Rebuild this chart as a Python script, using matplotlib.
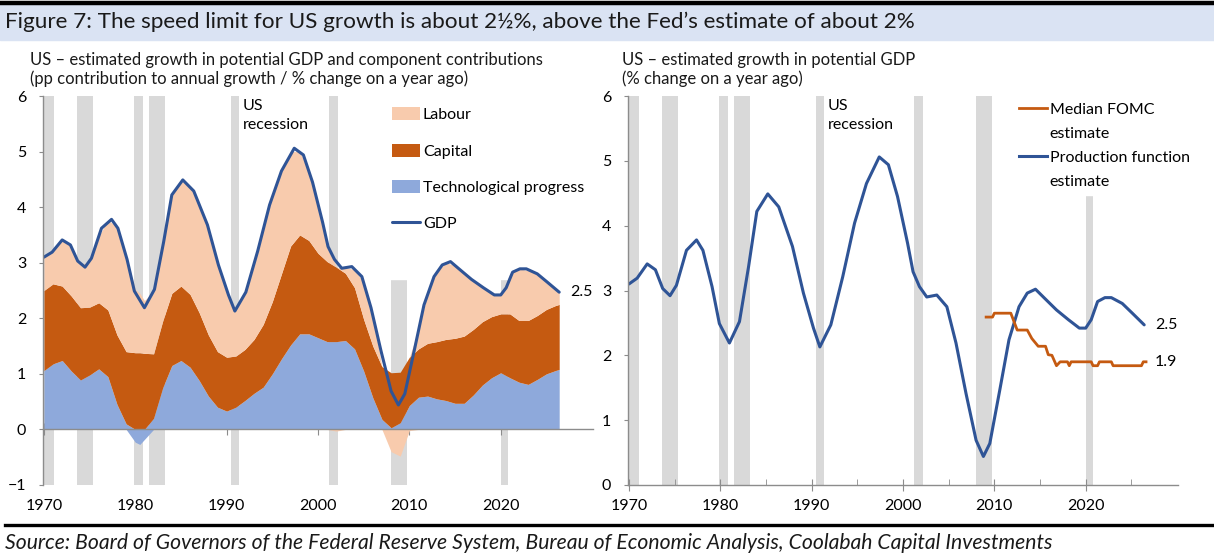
import numpy as np
import matplotlib.pyplot as plt
from matplotlib import font_manager
from matplotlib.lines import Line2D
from matplotlib.patches import Rectangle

# --- data ---
comp_years = [1970, 1971, 1972, 1973, 1974, 1975, 1976, 1977, 1978, 1979,
              1980, 1980.5, 1981, 1982, 1983, 1984, 1985, 1986, 1987, 1988,
              1989, 1990, 1991, 1992, 1993, 1994, 1995, 1996, 1997, 1998,
              1999, 2000, 2001, 2002, 2003, 2004, 2005, 2006, 2007, 2008,
              2009, 2010, 2011, 2012, 2013, 2014, 2015, 2016, 2017, 2018,
              2019, 2020, 2021, 2022, 2023, 2024, 2025, 2026, 2026.4]
tech = [1.06, 1.18, 1.24, 1.05, 0.89, 0.98, 1.09, 0.95, 0.45, 0.10,
        -0.23, -0.27, -0.18, 0.20, 0.75, 1.15, 1.24, 1.12, 0.88, 0.60,
        0.40, 0.33, 0.40, 0.52, 0.65, 0.76, 1.00, 1.27, 1.52, 1.72,
        1.72, 1.65, 1.58, 1.58, 1.60, 1.45, 1.05, 0.57, 0.18, 0.03,
        0.12, 0.43, 0.58, 0.60, 0.55, 0.52, 0.47, 0.47, 0.62, 0.80,
        0.93, 1.02, 0.93, 0.85, 0.81, 0.90, 1.00, 1.06, 1.08]
capital = [1.44, 1.44, 1.34, 1.35, 1.30, 1.22, 1.19, 1.20, 1.25, 1.30,
           1.38, 1.38, 1.37, 1.16, 1.20, 1.30, 1.34, 1.31, 1.22, 1.10,
           1.00, 0.97, 0.92, 0.92, 0.97, 1.13, 1.30, 1.53, 1.78, 1.78,
           1.68, 1.52, 1.44, 1.34, 1.21, 1.10, 0.93, 0.93, 0.95, 0.99,
           0.91, 0.87, 0.87, 0.95, 1.03, 1.10, 1.17, 1.21, 1.18, 1.14,
           1.10, 1.06, 1.15, 1.11, 1.15, 1.15, 1.16, 1.17, 1.17]
labour = [0.60, 0.58, 0.83, 0.90, 0.77, 0.82, 1.20, 1.61, 1.96, 1.72,
          1.14, 1.07, 0.95, 1.12, 1.33, 1.77, 1.89, 1.95, 1.95, 1.92,
          1.62, 1.22, 0.83, 0.99, 1.36, 1.71, 1.90, 1.85, 1.70, 1.50,
          1.25, 0.88, 0.33, -0.03, 0.10, 0.33, 0.67, 0.55, 0.00, -0.40,
          -0.48, -0.02, 0.35, 0.90, 1.27, 1.38, 1.31, 1.12, 0.87, 0.62,
          0.42, 0.34, 0.72, 0.93, 0.90, 0.75, 0.50, 0.30, 0.22]

gdp_years = [1970.0, 1970.9, 1972.0, 1972.9, 1973.7, 1974.5, 1975.2, 1976.3,
             1977.4, 1978.1, 1979.1, 1979.9, 1981.0, 1982.1, 1983.1, 1984.0,
             1985.2, 1986.4, 1987.9, 1989.1, 1990.2, 1990.9, 1992.1, 1993.4,
             1994.7, 1996.0, 1997.4, 1998.4, 1999.4, 2000.5, 2001.1, 2001.8,
             2002.6, 2003.7, 2004.8, 2005.8, 2006.9, 2008.0, 2008.8, 2009.5,
             2010.6, 2011.6, 2012.7, 2013.6, 2014.5, 2015.5, 2016.8, 2018.1,
             2019.3, 2020.0, 2020.6, 2021.3, 2022.1, 2022.8, 2024.0, 2025.1,
             2026.4]
gdp = [3.10, 3.19, 3.41, 3.32, 3.03, 2.92, 3.08, 3.62,
       3.78, 3.62, 3.06, 2.49, 2.19, 2.52, 3.37, 4.22,
       4.49, 4.29, 3.68, 2.96, 2.42, 2.13, 2.47, 3.21,
       4.04, 4.65, 5.06, 4.94, 4.45, 3.73, 3.29, 3.06,
       2.90, 2.93, 2.75, 2.19, 1.41, 0.69, 0.44, 0.64,
       1.47, 2.24, 2.75, 2.96, 3.02, 2.88, 2.70, 2.55,
       2.42, 2.42, 2.55, 2.83, 2.89, 2.89, 2.80, 2.65,
       2.47]

fomc_years = [2009.1, 2009.8, 2010.0, 2011.8, 2012.5, 2013.6, 2014.1, 2014.8,
              2015.6, 2015.9, 2016.3, 2016.8, 2017.2, 2018.0, 2018.2, 2018.4,
              2020.6, 2020.8, 2021.3, 2021.5, 2022.8, 2023.0, 2026.1, 2026.3,
              2026.6]
fomc = [2.59, 2.59, 2.65, 2.65, 2.39, 2.39, 2.26, 2.14,
        2.14, 2.01, 2.00, 1.84, 1.90, 1.90, 1.84, 1.90,
        1.90, 1.84, 1.84, 1.90, 1.90, 1.84, 1.84, 1.90,
        1.90]

recession_start = [1970.0, 1973.6, 1979.9, 1981.45, 1990.5, 2001.25, 2008.0, 2020.0]
recession_end = [1971.1, 1975.35, 1980.85, 1983.2, 1991.4, 2002.2, 2009.75, 2020.75]

title = "Figure 7: The speed limit for US growth is about 2½%, above the Fed’s estimate of about 2%"
left_sub = ["US – estimated growth in potential GDP and component contributions",
            "(pp contribution to annual growth / % change on a year ago)"]
right_sub = ["US – estimated growth in potential GDP", "(% change on a year ago)"]
source = ("Source: Board of Governors of the Federal Reserve System, Bureau of Economic "
          "Analysis, Coolabah Capital Investments")

# colours
c_labour = "#F8CBAD"
c_capital = "#C55A11"
c_tech = "#8EA9DB"
c_gdp = "#2F5496"
c_bar = "#D9D9D9"
c_axis = "#8C8C8C"

# fonts
names = {f.name for f in font_manager.fontManager.ttflist}
narrow = "Liberation Sans Narrow" if "Liberation Sans Narrow" in names else "Lato"
plt.rcParams["font.family"] = ["Lato", "DejaVu Sans"]

W, H = 1214, 558
fig = plt.figure(figsize=(W / 100, H / 100), dpi=100)


def box(x0, y0, x1, y1):
    return [x0 / W, 1 - y1 / H, (x1 - x0) / W, (y1 - y0) / H]


# header / footer decoration
fig.add_artist(Rectangle((0, 1 - 40 / H), 1, 35 / H, transform=fig.transFigure,
                         color="#DAE3F3", zorder=0))
fig.add_artist(Line2D([0, 1], [1 - 2.5 / H] * 2, color="black", lw=3.2))
fig.add_artist(Line2D([5 / W, 1], [1 - 525 / H] * 2, color="black", lw=2.4))
fig.text(5 / W, 1 - 22 / H, title, fontsize=16.2, family=[narrow, "DejaVu Sans"],
         va="center", ha="left", color="#1a1a1a")
for i, line in enumerate(left_sub):
    fig.text(30 / W, 1 - (60 + 19 * i) / H, line, fontsize=12,
             family=[narrow, "DejaVu Sans"], va="center", color="#1a1a1a")
for i, line in enumerate(right_sub):
    fig.text(622 / W, 1 - (60 + 19 * i) / H, line, fontsize=12,
             family=[narrow, "DejaVu Sans"], va="center", color="#1a1a1a")
fig.text(5 / W, 1 - 543 / H, source, fontsize=15.2, style="italic",
         va="center", ha="left", color="#1a1a1a")

ax1 = fig.add_axes(box(43, 96, 593, 485))
ax2 = fig.add_axes(box(628, 96, 1178, 485))


def style(ax, ymin, ymax):
    ax.set_xlim(1969.9, 2030.1)
    ax.set_ylim(ymin, ymax)
    for s in ["top", "right"]:
        ax.spines[s].set_visible(False)
    for s in ["left", "bottom"]:
        ax.spines[s].set_color(c_axis)
        ax.spines[s].set_linewidth(1.0)
        ax.spines[s].set_zorder(4)
    ax.set_yticks(range(ymin, ymax + 1))
    ax.set_xticks(range(1970, 2030, 10))
    ax.set_xticks(range(1975, 2030, 10), minor=True)
    ax.tick_params(axis="y", direction="out", length=3, color=c_axis,
                   labelsize=11.5, pad=9)
    ax.tick_params(axis="x", which="major", direction="inout", length=8,
                   color=c_axis, labelsize=11.5, pad=6)
    ax.tick_params(axis="x", which="minor", direction="in", length=4, color=c_axis)
    for a, b in zip(recession_start, recession_end):
        ax.axvspan(a, b, color=c_bar, lw=0, zorder=0.5)
    ax.text(1991.8, ymax - 0.05, "US\nrecession", fontsize=11.5, va="top",
            ha="left", linespacing=1.45, zorder=3)


# ---- left chart: stacked contributions with separate positive/negative stacks
style(ax1, -1, 6)
ax1.spines["bottom"].set_position(("data", 0))
ax1.tick_params(axis="x", labelbottom=False)
sec = ax1.secondary_xaxis("bottom")
sec.set_xticks(range(1970, 2030, 10))
sec.spines["bottom"].set_visible(False)
sec.tick_params(length=0, labelsize=11.5, pad=10)

x = np.array(comp_years)
pos = np.zeros(len(x))
neg = np.zeros(len(x))
handles = []
for vals, col, lab in [(tech, c_tech, "Technological progress"),
                       (capital, c_capital, "Capital"),
                       (labour, c_labour, "Labour")]:
    v = np.array(vals)
    p = np.clip(v, 0, None)
    n = np.clip(v, None, 0)
    art = ax1.fill_between(x, pos, pos + p, color=col, lw=0, zorder=2, label=lab)
    ax1.fill_between(x, neg, neg + n, color=col, lw=0, zorder=2)
    pos = pos + p
    neg = neg + n
    handles.append(art)
gdp_line, = ax1.plot(gdp_years, gdp, color=c_gdp, lw=2.2, zorder=3,
                     solid_capstyle="round", label="GDP")
ax1.text(2027.6, gdp[-1], "2.5", fontsize=11.5, va="center", ha="left")

# legend box sits above the recession bars but below the data
blank = Line2D([], [], color="none")
leg1 = ax1.legend(handles=[handles[2], handles[1], handles[0], gdp_line, blank],
                  labels=["Labour", "Capital", "Technological progress", "GDP", " "],
                  loc="upper left", bbox_to_anchor=(0.615, 1.0),
                  frameon=True, fancybox=False, framealpha=1, edgecolor="white",
                  fontsize=11.5, handlelength=1.75, handleheight=0.9,
                  handletextpad=0.15, labelspacing=1.33, borderpad=0.7,
                  borderaxespad=0)
leg1.set_zorder(1)

# ---- right chart: production function vs FOMC
style(ax2, 0, 6)
ax2.plot(gdp_years, gdp, color=c_gdp, lw=2.2, zorder=3, solid_capstyle="round")
ax2.plot(fomc_years, fomc, color=c_capital, lw=2.0, zorder=3)
ax2.text(2027.6, gdp[-1], "2.5", fontsize=11.5, va="center", ha="left")
ax2.text(2027.6, fomc[-1], "1.9", fontsize=11.5, va="center", ha="left")

leg2 = ax2.legend(handles=[Line2D([], [], color=c_capital, lw=2.0), blank,
                           Line2D([], [], color=c_gdp, lw=2.2), blank],
                  labels=["Median FOMC", "estimate", "Production function", "estimate"],
                  loc="upper left", bbox_to_anchor=(0.7, 1.0),
                  frameon=True, fancybox=False, framealpha=1, edgecolor="white",
                  fontsize=11.5, handlelength=1.75, handletextpad=0.15,
                  labelspacing=0.62, borderpad=0.4, borderaxespad=0)
leg2.set_zorder(1)

fig.savefig("out.png", dpi=100)
